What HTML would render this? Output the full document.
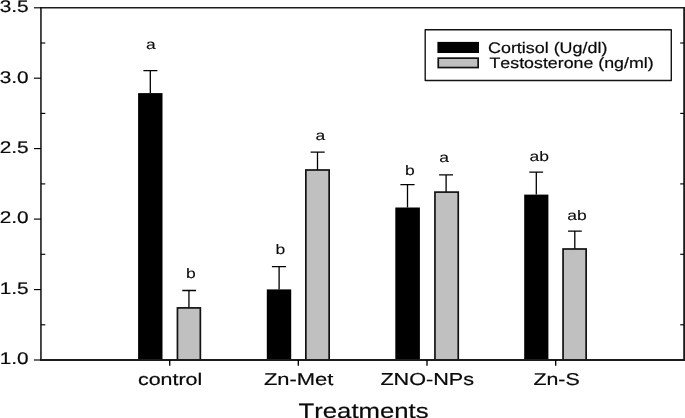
<!DOCTYPE html>
<html><head><meta charset="utf-8"><title>chart</title>
<style>
html,body{margin:0;padding:0;background:#fff;}
body{width:685px;height:418px;overflow:hidden;}
svg text{font-family:"Liberation Sans",sans-serif;font-kerning:none;text-rendering:geometricPrecision;font-feature-settings:"kern" 0,"liga" 0;}
svg{will-change:transform;filter:grayscale(1);}
</style></head><body>
<svg width="685" height="418" viewBox="0 0 685 418" style="display:block">
<rect x="0" y="0" width="685" height="418" fill="#fff"/>
<path d="M150.3 93.1V70.7M143.4 70.7H157.4" stroke="#000" stroke-width="1.3" fill="none"/>
<rect x="138.1" y="93.1" width="24.4" height="266.9" fill="#000"/>
<path d="M279.1 289.4V266.7M271.9 266.7H286.1" stroke="#000" stroke-width="1.3" fill="none"/>
<rect x="266.8" y="289.40000000000003" width="24.4" height="70.6" fill="#000"/>
<path d="M407.5 207.5V184.7M400.4 184.7H414.6" stroke="#000" stroke-width="1.3" fill="none"/>
<rect x="395.3" y="207.5" width="24.6" height="152.5" fill="#000"/>
<path d="M536.3 194.6V172.1M529.3 172.1H543.1" stroke="#000" stroke-width="1.3" fill="none"/>
<rect x="524.2" y="194.60000000000002" width="24.2" height="165.4" fill="#000"/>
<path d="M188.95 307.8V290.5M182.3 290.5H196.1" stroke="#000" stroke-width="1.3" fill="none"/>
<rect x="177.45" y="307.90" width="22.90" height="52.10" fill="#c0c0c0" stroke="#121212" stroke-width="1.7"/>
<path d="M317.5 169.9V152.1M310.6 152.1H324.7" stroke="#000" stroke-width="1.3" fill="none"/>
<rect x="305.85" y="170.00" width="23.30" height="190.00" fill="#c0c0c0" stroke="#121212" stroke-width="1.7"/>
<path d="M446.1 192.0V174.9M439.1 174.9H453.0" stroke="#000" stroke-width="1.3" fill="none"/>
<rect x="434.95" y="192.10" width="23.30" height="167.90" fill="#c0c0c0" stroke="#121212" stroke-width="1.7"/>
<path d="M574.8 248.9V231.1M568.0 231.1H581.8" stroke="#000" stroke-width="1.3" fill="none"/>
<rect x="563.05" y="249.00" width="23.10" height="111.00" fill="#c0c0c0" stroke="#121212" stroke-width="1.7"/>
<path d="M40.2 7.7H685" fill="none" stroke="#1c1c1c" stroke-width="1.6"/>
<path d="M40.2 360.0H685" fill="none" stroke="#1c1c1c" stroke-width="1.9"/>
<path d="M40.95 7.7V360.0" fill="none" stroke="#1c1c1c" stroke-width="1.6"/>
<path d="M684.1 6.9V360.95" fill="none" stroke="#1c1c1c" stroke-width="1.8"/>
<path d="M33.9 360.0H41.0" stroke="#000" stroke-width="1.15"/>
<path d="M41.0 324.8H45.3" stroke="#000" stroke-width="1.15"/>
<path d="M684.0 324.8H680.2" stroke="#000" stroke-width="1.15"/>
<path d="M33.9 289.6H41.0" stroke="#000" stroke-width="1.15"/>
<path d="M41.0 254.3H45.3" stroke="#000" stroke-width="1.15"/>
<path d="M684.0 254.3H680.2" stroke="#000" stroke-width="1.15"/>
<path d="M33.9 219.1H41.0" stroke="#000" stroke-width="1.15"/>
<path d="M41.0 183.9H45.3" stroke="#000" stroke-width="1.15"/>
<path d="M684.0 183.9H680.2" stroke="#000" stroke-width="1.15"/>
<path d="M33.9 148.6H41.0" stroke="#000" stroke-width="1.15"/>
<path d="M41.0 113.4H45.3" stroke="#000" stroke-width="1.15"/>
<path d="M684.0 113.4H680.2" stroke="#000" stroke-width="1.15"/>
<path d="M33.9 78.2H41.0" stroke="#000" stroke-width="1.15"/>
<path d="M41.0 43.0H45.3" stroke="#000" stroke-width="1.15"/>
<path d="M684.0 43.0H680.2" stroke="#000" stroke-width="1.15"/>
<path d="M33.9 7.8H41.0" stroke="#000" stroke-width="1.15"/>
<path d="M169.7 360.0V365.8" stroke="#000" stroke-width="1.35"/>
<path d="M298.3 360.0V365.8" stroke="#000" stroke-width="1.35"/>
<path d="M427.0 360.0V365.8" stroke="#000" stroke-width="1.35"/>
<path d="M555.7 360.0V365.8" stroke="#000" stroke-width="1.35"/>
<text transform="translate(28.6 364.4) rotate(0.02) scale(1.24 1)" font-size="16.8" text-anchor="end" fill="#0a0a0a" stroke="#0a0a0a" stroke-width="0.2">1.0</text>
<text transform="translate(28.6 293.9) rotate(0.02) scale(1.24 1)" font-size="16.8" text-anchor="end" fill="#0a0a0a" stroke="#0a0a0a" stroke-width="0.2">1.5</text>
<text transform="translate(28.6 223.5) rotate(0.02) scale(1.24 1)" font-size="16.8" text-anchor="end" fill="#0a0a0a" stroke="#0a0a0a" stroke-width="0.2">2.0</text>
<text transform="translate(28.6 153.0) rotate(0.02) scale(1.24 1)" font-size="16.8" text-anchor="end" fill="#0a0a0a" stroke="#0a0a0a" stroke-width="0.2">2.5</text>
<text transform="translate(28.6 82.6) rotate(0.02) scale(1.24 1)" font-size="16.8" text-anchor="end" fill="#0a0a0a" stroke="#0a0a0a" stroke-width="0.2">3.0</text>
<text transform="translate(28.6 12.2) rotate(0.02) scale(1.24 1)" font-size="16.8" text-anchor="end" fill="#0a0a0a" stroke="#0a0a0a" stroke-width="0.2">3.5</text>
<text transform="translate(138.0 384.7) rotate(0.02) scale(1.275 1)" font-size="16.8" text-anchor="start" fill="#0a0a0a" stroke="#0a0a0a" stroke-width="0.2">control</text>
<text transform="translate(263.9 384.7) rotate(0.02) scale(1.29 1)" font-size="17.0" text-anchor="start" fill="#0a0a0a" stroke="#0a0a0a" stroke-width="0.2">Zn-Met</text>
<text transform="translate(380.4 384.7) rotate(0.02) scale(1.25 1)" font-size="17.3" text-anchor="start" fill="#0a0a0a" stroke="#0a0a0a" stroke-width="0.2">ZNO-NPs</text>
<text transform="translate(533.4 384.7) rotate(0.02) scale(1.25 1)" font-size="17.1" text-anchor="start" fill="#0a0a0a" stroke="#0a0a0a" stroke-width="0.2">Zn-S</text>
<text transform="translate(298.5 418.0) rotate(0.02) scale(1.225 1)" font-size="21.0" text-anchor="start" fill="#0a0a0a" stroke="#0a0a0a" stroke-width="0.2">Treatments</text>
<rect x="425.2" y="29.75" width="246.1" height="50.8" fill="#fff" stroke="#141414" stroke-width="1.4" stroke-linejoin="round"/>
<rect x="437.4" y="41.9" width="41.6" height="11.1" fill="#000"/>
<rect x="438.25" y="58.15" width="39.9" height="9.4" fill="#c0c0c0" stroke="#121212" stroke-width="1.7"/>
<text transform="translate(488.0 52.7) rotate(0.02) scale(1.17 1)" font-size="15.3" text-anchor="start" fill="#0a0a0a" stroke="#0a0a0a" stroke-width="0.2">Cortisol (Ug/dl)</text>
<text transform="translate(489.5 67.7) rotate(0.02) scale(1.186 1)" font-size="15.0" text-anchor="start" fill="#0a0a0a" stroke="#0a0a0a" stroke-width="0.2">Testosterone (ng/ml)</text>
<text transform="translate(146.0 49.4) rotate(0.02) scale(1.27 1)" font-size="13.8" text-anchor="start" fill="#0a0a0a" stroke="#0a0a0a" stroke-width="0.08">a</text>
<text transform="translate(186.0 278.4) rotate(0.02) scale(1.27 1)" font-size="13.8" text-anchor="start" fill="#0a0a0a" stroke="#0a0a0a" stroke-width="0.08">b</text>
<text transform="translate(275.4 254.3) rotate(0.02) scale(1.27 1)" font-size="13.8" text-anchor="start" fill="#0a0a0a" stroke="#0a0a0a" stroke-width="0.08">b</text>
<text transform="translate(315.6 140.2) rotate(0.02) scale(1.27 1)" font-size="13.8" text-anchor="start" fill="#0a0a0a" stroke="#0a0a0a" stroke-width="0.08">a</text>
<text transform="translate(404.9 174.8) rotate(0.02) scale(1.27 1)" font-size="13.8" text-anchor="start" fill="#0a0a0a" stroke="#0a0a0a" stroke-width="0.08">b</text>
<text transform="translate(439.2 161.9) rotate(0.02) scale(1.27 1)" font-size="13.8" text-anchor="start" fill="#0a0a0a" stroke="#0a0a0a" stroke-width="0.08">a</text>
<text transform="translate(529.6 160.9) rotate(0.02) scale(1.27 1)" font-size="13.8" text-anchor="start" fill="#0a0a0a" stroke="#0a0a0a" stroke-width="0.08">ab</text>
<text transform="translate(567.3 220.3) rotate(0.02) scale(1.27 1)" font-size="13.8" text-anchor="start" fill="#0a0a0a" stroke="#0a0a0a" stroke-width="0.08">ab</text>
</svg>
</body></html>
